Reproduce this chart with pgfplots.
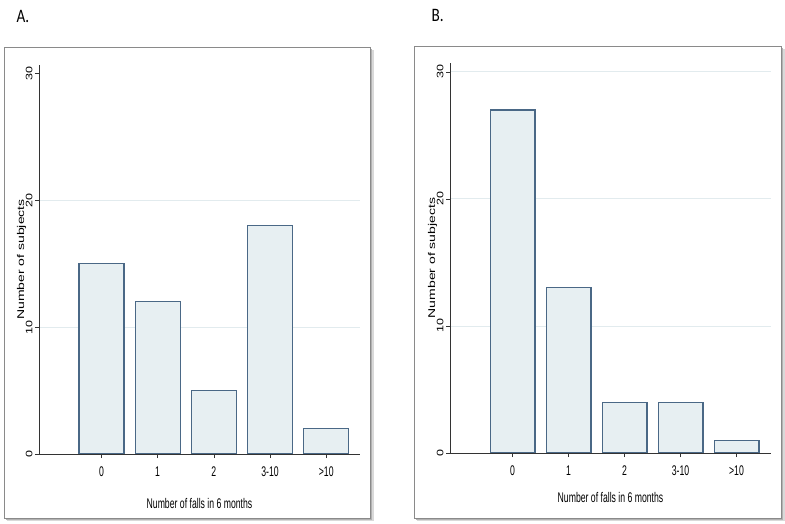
\documentclass[border=0pt]{standalone}
\usepackage{fontspec}
\setmainfont{Liberation Sans}
\newfontfamily\narrowfont[FakeStretch=0.62]{Liberation Sans}
\newfontfamily\titlefont[FakeStretch=0.8]{Carlito}
\usepackage{pgfplots}
\pgfplotsset{compat=1.18}
\definecolor{barfill}{HTML}{E7EFF2}
\definecolor{baredge}{HTML}{4A6886}
\definecolor{gridc}{HTML}{E2EBEE}
\definecolor{framec}{HTML}{8A8A8A}
\pgfplotsset{fallstyle/.style={
  scale only axis, width=321bp, height=389bp,
  xmin=-1.111, xmax=4.6, ymin=0, ymax=30.65,
  axis x line=bottom, axis y line=left,
  axis line style={-, draw=black!80, line width=0.8pt},
  xtick={0,1,2,3,4}, xticklabels={0,1,2,3-10,>10},
  tick align=outside, major tick length=4bp,
  tick style={black!80, line width=0.6pt},
  grid style={gridc, line width=0.9pt},
  /pgf/number format/assume math mode=true,
  xticklabel style={font=\narrowfont\fontsize{14bp}{16bp}\selectfont, yshift=-5bp},
  yticklabel style={font=\fontsize{12.5bp}{14bp}\selectfont, rotate=90, yscale=0.75, anchor=south},
  xlabel={Number of falls in 6 months},
  ylabel={Number of subjects},
  ylabel style={font=\fontsize{14bp}{16bp}\selectfont, at={(axis description cs:-0.054,0.5)}, anchor=center, yscale=0.7},
}}
\begin{document}
\begin{tikzpicture}
\path[use as bounding box] (0bp,0bp) rectangle (785bp,524bp);
% frames with shadow
\fill[black!15] (7bp,3bp) rectangle (374bp,474bp);
\fill[black!30] (6bp,4bp) rectangle (372bp,475bp);
\draw[framec, fill=white, line width=0.8pt] (4bp,6bp) rectangle (370bp,477bp);
\fill[black!15] (417bp,3bp) rectangle (785bp,475bp);
\fill[black!30] (416bp,4bp) rectangle (783bp,476bp);
\draw[framec, fill=white, line width=0.8pt] (414bp,6bp) rectangle (781bp,478bp);
\node[anchor=west, font=\titlefont\fontsize{19bp}{22bp}\selectfont] at (13bp,508bp) {A.};
\node[anchor=west, font=\titlefont\fontsize{19bp}{22bp}\selectfont] at (428bp,509bp) {B.};

\begin{axis}[fallstyle, at={(39bp,70bp)}, anchor=south west,
  ytick={0,10,20}, ymajorgrids,
  extra y ticks={30}, extra y tick style={grid=none},
  xlabel style={font=\narrowfont\fontsize{14bp}{16bp}\selectfont, at={(axis description cs:0.5,0)}, anchor=center, yshift=-49bp}]
\addplot[ybar, bar width=0.8, fill=barfill, draw=baredge, line width=1.2pt]
  coordinates {(0,15) (1,12) (2,5) (3,18) (4,2)};
\end{axis}

\begin{axis}[fallstyle, at={(450bp,71bp)}, anchor=south west,
  xmin=-1.116, xmax=4.616, ymax=30.7, height=390bp,
  ytick={0,10,20,30}, ymajorgrids,
  xlabel style={font=\narrowfont\fontsize{14bp}{16bp}\selectfont, at={(axis description cs:0.5,0)}, anchor=center, yshift=-44bp}]
\addplot[ybar, bar width=0.8, fill=barfill, draw=baredge, line width=1.2pt]
  coordinates {(0,27) (1,13) (2,4) (3,4) (4,1)};
\end{axis}
\end{tikzpicture}
\end{document}
